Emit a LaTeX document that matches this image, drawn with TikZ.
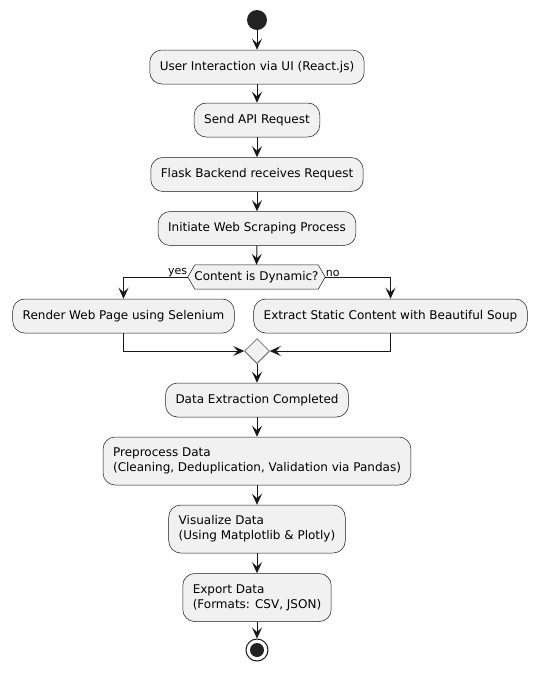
\documentclass[tikz,border=0pt]{standalone}
\usepackage{fontspec}
\setmainfont{DejaVu Sans}
\usetikzlibrary{arrows.meta,shapes.geometric}
\definecolor{boxfill}{HTML}{F1F1F1}
\definecolor{boxline}{HTML}{181818}
\definecolor{dotc}{HTML}{222222}
\begin{document}
\begin{tikzpicture}[x=1pt,y=-1pt,
  act/.style={draw=boxline, line width=0.5pt, fill=boxfill, rounded corners=12pt,
    minimum height=34pt, inner xsep=10pt, inner ysep=4pt,
    font=\fontsize{12}{15}\selectfont, align=left},
  act2/.style={act, minimum height=48pt},
  arr/.style={draw=boxline, line width=1pt, -{Stealth[length=11pt,width=10pt,inset=4.5pt]}},
  lbl/.style={font=\fontsize{11}{13}\selectfont, inner sep=0.5pt}]
\useasboundingbox (0,0) rectangle (537,673);
\fill[white] (0,0) rectangle (537,673);

\node[circle, fill=dotc, minimum size=20pt, inner sep=0pt] (start) at (257,20) {};
\node[act] (b1) at (257,67) {User Interaction via UI (React.js)};
\node[act] (b2) at (257,120) {Send API Request};
\node[act] (b3) at (257,174.5) {Flask Backend receives Request};
\node[act] (b4) at (257,228.5) {Initiate Web Scraping Process};

\node[draw=none, minimum width=123pt, minimum height=24pt, inner sep=0pt] (dec) at (256.5,277) {};
\coordinate (decL) at ([xshift=-7pt]dec.west);
\coordinate (decR) at ([xshift=7pt]dec.east);
\filldraw[draw=boxline, fill=boxfill, line width=0.5pt]
  (dec.north west) -- (dec.north east) -- (decR) -- (dec.south east)
  -- (dec.south west) -- (decL) -- cycle;
\node[font=\fontsize{12}{15}\selectfont, inner sep=0pt] (dectext) at (dec.center) {Content is Dynamic?};

\node[act] (left) at (123.5,316) {Render Web Page using Selenium};
\node[act] (right) at (390.5,316) {Extract Static Content with Beautiful Soup};

\node[diamond, draw=boxline, line width=0.5pt, fill=boxfill, minimum width=25pt,
      minimum height=25pt, inner sep=0pt] (merge) at (257,351) {};

\node[act] (b5) at (257,400) {Data Extraction Completed};
\node[act2] (b6) at (257,461) {Preprocess Data\\(Cleaning, Deduplication, Validation via Pandas)};
\node[act2] (b7) at (257,529) {Visualize Data\\(Using Matplotlib \& Plotly)};
\node[act2] (b8) at (257,597.5) {Export Data\\(Formats: CSV, JSON)};

\node[circle, draw=boxline, line width=1pt, fill=white, minimum size=22pt, inner sep=0pt] (end) at (257,650) {};
\fill[dotc] (end.center) circle (7pt);

\draw[arr] (start.south) -- (b1.north);
\draw[arr] (b1.south) -- (b2.north);
\draw[arr] (b2.south) -- (b3.north);
\draw[arr] (b3.south) -- (b4.north);
\draw[arr] (b4.south) -- (dec.north);
\draw[arr] (decL) -| (left.north);
\draw[arr] (decR) -| (right.north);
\node[lbl, anchor=south east] (yes) at (decL) {yes};
\node[lbl, anchor=south west] (no) at (decR) {no};
\draw[arr] (left.south) |- (merge.west);
\draw[arr] (right.south) |- (merge.east);
\draw[arr] (merge.south) -- (b5.north);
\draw[arr] (b5.south) -- (b6.north);
\draw[arr] (b6.south) -- (b7.north);
\draw[arr] (b7.south) -- (b8.north);
\draw[arr] (b8.south) -- (end.north);
\end{tikzpicture}
\end{document}
